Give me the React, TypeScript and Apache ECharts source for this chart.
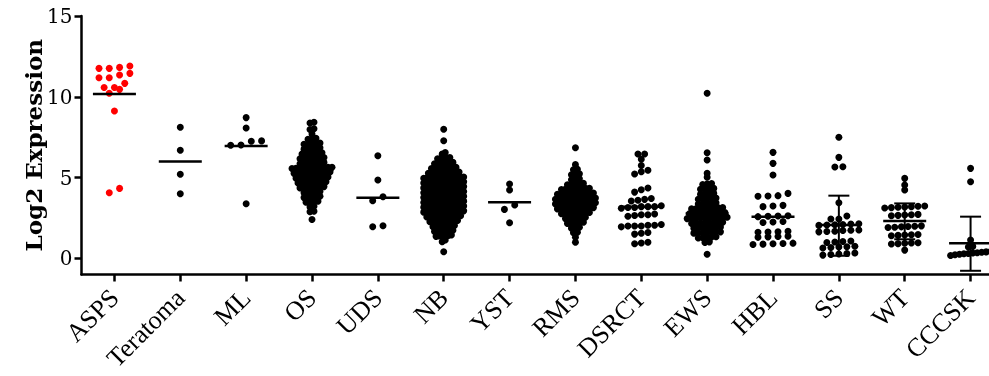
import React, { useEffect, useRef } from "react";
import * as echarts from "echarts";

// ---------- data ----------
const categories = ["ASPS", "Teratoma", "ML", "OS", "UDS", "NB", "YST", "RMS", "DSRCT", "EWS", "HBL", "SS", "WT", "CCCSK"];
const yTickValues = [0, 5, 10, 15];
const highlightCategory = "ASPS";

const aspsValues = [11.9, 11.82, 11.76, 11.76, 11.45, 11.35, 11.18, 11.18, 10.83, 10.57, 10.57, 10.46, 10.22, 9.12, 4.33, 4.06];
const teratomaValues = [8.11, 6.69, 5.2, 4.0];
const mlValues = [8.71, 8.07, 7.27, 7.25, 7.02, 7.0, 3.38];
const osValues = [
  2.4, 2.88, 2.92, 3.18, 3.22, 3.47, 3.49, 3.51, 3.53,
  3.76, 3.78, 3.8, 3.82, 3.84, 4.06, 4.08, 4.1, 4.12, 4.14,
  4.36, 4.37, 4.39, 4.4, 4.41, 4.43, 4.44,
  4.66, 4.67, 4.68, 4.69, 4.71, 4.72, 4.73, 4.74,
  4.96, 4.97, 4.98, 4.99, 5.0, 5.01, 5.02, 5.03, 5.04,
  5.26, 5.27, 5.28, 5.29, 5.3, 5.3, 5.31, 5.32, 5.33, 5.34,
  5.56, 5.57, 5.58, 5.59, 5.6, 5.6, 5.6, 5.61, 5.62, 5.63, 5.64,
  5.86, 5.87, 5.89, 5.9, 5.91, 5.93, 5.94,
  6.16, 6.17, 6.19, 6.2, 6.21, 6.23, 6.24,
  6.46, 6.48, 6.49, 6.51, 6.52, 6.54,
  6.76, 6.78, 6.8, 6.82, 6.84,
  7.06, 7.08, 7.1, 7.12, 7.14,
  7.37, 7.4, 7.43, 7.7, 7.98, 8.02, 8.38, 8.42,
];
const udsValues = [6.35, 4.85, 3.81, 3.57, 2.02, 1.96];
const nbValues = [
  0.41, 1.03, 1.13,
  1.36, 1.38, 1.39, 1.41, 1.42, 1.44,
  1.66, 1.67, 1.69, 1.7, 1.71, 1.73, 1.74,
  1.96, 1.97, 1.98, 1.99, 2.01, 2.02, 2.03, 2.04,
  2.26, 2.27, 2.28, 2.29, 2.3, 2.3, 2.31, 2.32, 2.33, 2.34,
  2.56, 2.57, 2.58, 2.58, 2.59, 2.6, 2.6, 2.61, 2.62, 2.62, 2.63, 2.64,
  2.86, 2.87, 2.87, 2.88, 2.89, 2.89, 2.9, 2.9, 2.91, 2.91, 2.92, 2.93, 2.93, 2.94,
  3.16, 3.17, 3.17, 3.18, 3.19, 3.19, 3.2, 3.2, 3.21, 3.21, 3.22, 3.23, 3.23, 3.24,
  3.46, 3.47, 3.47, 3.48, 3.49, 3.49, 3.5, 3.5, 3.51, 3.51, 3.52, 3.53, 3.53, 3.54,
  3.76, 3.77, 3.77, 3.78, 3.79, 3.79, 3.8, 3.8, 3.81, 3.81, 3.82, 3.83, 3.83, 3.84,
  4.06, 4.07, 4.07, 4.08, 4.09, 4.09, 4.1, 4.1, 4.11, 4.11, 4.12, 4.13, 4.13, 4.14,
  4.36, 4.37, 4.37, 4.38, 4.39, 4.39, 4.4, 4.4, 4.41, 4.41, 4.42, 4.43, 4.43, 4.44,
  4.66, 4.67, 4.67, 4.68, 4.69, 4.69, 4.7, 4.7, 4.71, 4.71, 4.72, 4.73, 4.73, 4.74,
  4.96, 4.97, 4.97, 4.98, 4.99, 4.99, 5.0, 5.0, 5.01, 5.01, 5.02, 5.03, 5.03, 5.04,
  5.26, 5.27, 5.28, 5.29, 5.3, 5.3, 5.3, 5.31, 5.32, 5.33, 5.34,
  5.56, 5.57, 5.58, 5.59, 5.6, 5.61, 5.62, 5.63, 5.64,
  5.86, 5.87, 5.89, 5.9, 5.91, 5.93, 5.94,
  6.16, 6.18, 6.2, 6.22, 6.24,
  6.45, 6.55, 7.28, 7.99,
];
const ystValues = [4.6, 4.23, 3.3, 3.03, 2.2];
const rmsValues = [
  1.0, 1.3, 1.58, 1.62, 1.87, 1.9, 1.93,
  2.16, 2.18, 2.2, 2.22, 2.24,
  2.46, 2.48, 2.49, 2.51, 2.52, 2.54,
  2.76, 2.77, 2.78, 2.79, 2.81, 2.82, 2.83, 2.84,
  3.06, 3.07, 3.08, 3.09, 3.1, 3.1, 3.11, 3.12, 3.13, 3.14,
  3.36, 3.37, 3.38, 3.39, 3.4, 3.4, 3.4, 3.41, 3.42, 3.43, 3.44,
  3.66, 3.67, 3.68, 3.69, 3.7, 3.7, 3.7, 3.71, 3.72, 3.73, 3.74,
  3.96, 3.97, 3.98, 3.99, 4.0, 4.0, 4.01, 4.02, 4.03, 4.04,
  4.26, 4.27, 4.28, 4.29, 4.31, 4.32, 4.33, 4.34,
  4.56, 4.58, 4.6, 4.62, 4.64,
  4.87, 4.9, 4.93, 5.17, 5.2, 5.23, 5.48, 5.52, 5.8, 6.85,
];
const dsrctValues = [
  6.46, 6.46, 6.13, 5.75, 5.45, 5.36, 5.22, 4.35, 4.25, 4.1,
  3.7, 3.65, 3.6, 3.55, 3.25, 3.2, 3.2, 3.2, 3.15, 3.15, 3.1,
  2.75, 2.7, 2.7, 2.65, 2.6, 2.1, 2.05, 2.05, 2.0, 2.0, 2.0, 1.95,
  1.6, 1.55, 1.5, 1.0, 0.95, 0.9,
];
const ewsValues = [
  0.25, 0.98, 1.02,
  1.26, 1.28, 1.3, 1.32, 1.34,
  1.56, 1.57, 1.59, 1.6, 1.61, 1.63, 1.64,
  1.86, 1.87, 1.89, 1.9, 1.91, 1.93, 1.94,
  2.16, 2.17, 2.18, 2.19, 2.21, 2.22, 2.23, 2.24,
  2.46, 2.47, 2.48, 2.49, 2.5, 2.5, 2.51, 2.52, 2.53, 2.54,
  2.76, 2.77, 2.78, 2.79, 2.8, 2.81, 2.82, 2.83, 2.84,
  3.06, 3.07, 3.08, 3.09, 3.11, 3.12, 3.13, 3.14,
  3.36, 3.38, 3.4, 3.42, 3.44,
  3.66, 3.68, 3.7, 3.72, 3.74,
  3.97, 3.99, 4.01, 4.03,
  4.27, 4.29, 4.31, 4.33,
  4.57, 4.6, 4.63, 5.02, 5.26, 6.09, 6.54, 10.22,
];
const hblValues = [
  6.56, 5.88, 5.16, 4.02, 3.88, 3.86, 3.84, 3.28, 3.24, 3.2,
  2.64, 2.62, 2.6, 2.58, 2.28, 2.25, 2.22, 1.67, 1.65, 1.63, 1.61,
  1.37, 1.35, 1.33, 1.3, 0.94, 0.92, 0.9, 0.88, 0.86,
];
const ssValues = [
  7.49, 6.25, 5.67, 5.65, 3.44, 2.62, 2.43, 2.43,
  2.14, 2.12, 2.1, 2.08, 2.06, 2.04, 1.76, 1.74, 1.72, 1.68, 1.66, 1.64,
  1.07, 1.04, 1.01, 0.98, 0.75, 0.72, 0.7, 0.67, 0.64, 0.33, 0.3, 0.27, 0.24, 0.2,
];
const wtValues = [
  4.95, 4.54, 4.23, 3.24, 3.22, 3.2, 3.18, 3.16, 3.14, 3.12,
  2.72, 2.7, 2.68, 2.66, 2.64, 2.01, 1.99, 1.97, 1.95, 1.93, 1.91,
  1.48, 1.46, 1.44, 1.42, 1.4, 0.97, 0.95, 0.93, 0.91, 0.89, 0.51,
];
const cccskValues = [5.57, 4.74, 1.13, 0.74, 0.7, 0.42, 0.4, 0.38, 0.35, 0.33, 0.3, 0.28, 0.25, 0.22, 0.18];

const groupValues: number[][] = [
  aspsValues, teratomaValues, mlValues, osValues, udsValues, nbValues, ystValues,
  rmsValues, dsrctValues, ewsValues, hblValues, ssValues, wtValues, cccskValues,
];
const meanValues = [10.17, 6.0, 6.95, 5.47, 3.75, 3.8, 3.47, 3.45, 3.2, 2.78, 2.58, 2.06, 2.31, 0.93];
const errorCategories = ["SS", "WT", "CCCSK"];
const errorLow = [0.16, 1.18, -0.77];
const errorHigh = [3.88, 3.4, 2.58];

// ---------- layout / style ----------
const W = 989;
const H = 376;
const GRID_LEFT = 81.5;
const GRID_RIGHT = -14.5;
const GRID_TOP = 16;
const GRID_BOTTOM = 101.5;
const DOT = 7;
const MAX_STEP_PX = 10.3;
const SPREAD_PX = 40;
const MEAN_HALF_PX = 21.5;
const CAP_HALF_PX = 10.5;

function layoutGroup(values: number[], catIndex: number, pxPerCat: number): number[][] {
  const rowH = values.length >= 50 ? 0.2 : 0.28;
  const sorted = [...values].sort((a, b) => a - b);
  const rows: number[][] = [];
  let cur: number[] = [];
  let start = 0;
  for (const v of sorted) {
    if (cur.length > 0 && v < start + rowH) cur.push(v);
    else {
      if (cur.length) rows.push(cur);
      cur = [v];
      start = v;
    }
  }
  if (cur.length) rows.push(cur);
  const maxN = Math.max(...rows.map((r) => r.length));
  const step = maxN > 1 ? Math.min(MAX_STEP_PX, SPREAD_PX / (maxN - 1)) : 0;
  const pts: number[][] = [];
  rows.forEach((r) =>
    r.forEach((v, i) => pts.push([catIndex + ((i - (r.length - 1) / 2) * step) / pxPerCat, v]))
  );
  return pts;
}

export default function App() {
  const ref = useRef<HTMLDivElement>(null);
  useEffect(() => {
    if (!ref.current) return;
    const chart = echarts.init(ref.current, null, { renderer: "svg" });
    const pxPerCat = (W - GRID_LEFT - GRID_RIGHT) / categories.length;
    const blackPts: number[][] = [];
    const redPts: number[][] = [];
    groupValues.forEach((vals, i) => {
      const pts = layoutGroup(vals, i, pxPerCat);
      if (categories[i] === highlightCategory) redPts.push(...pts);
      else blackPts.push(...pts);
    });
    const meanData = meanValues.map((m, i) => [i, m]);
    const errData = errorCategories.map((c, k) => [categories.indexOf(c), errorLow[k], errorHigh[k]]);
    const meanStyle = { stroke: "#000", lineWidth: 2.5 };
    const errStyle = { stroke: "#000", lineWidth: 2 };

    chart.setOption({
      animation: false,
      grid: {
        left: GRID_LEFT,
        right: GRID_RIGHT,
        top: GRID_TOP,
        bottom: GRID_BOTTOM,
        containLabel: false,
        outerBoundsMode: "none",
      },
      xAxis: [
        {
          type: "category",
          data: categories,
          boundaryGap: true,
          position: "bottom",
          axisLine: { show: true, onZero: false, lineStyle: { color: "#000", width: 2.5 } },
          axisTick: { show: true, alignWithLabel: true, length: 7, lineStyle: { color: "#000", width: 2.5 } },
          axisLabel: {
            interval: 0,
            rotate: 45,
            margin: 19,
            align: "right",
            verticalAlign: "middle",
            color: "#000",
            fontFamily: "'Liberation Serif', 'Times New Roman', serif",
            fontSize: 26,
          },
          splitLine: { show: false },
        },
        { type: "value", min: -0.5, max: categories.length - 0.5, show: false, position: "bottom" },
      ],
      yAxis: {
        type: "value",
        min: -1,
        max: 15,
        axisLine: { show: true, onZero: false, lineStyle: { color: "#000", width: 2.5 } },
        axisTick: { show: true, length: 7, customValues: yTickValues, lineStyle: { color: "#000", width: 2.5 } },
        axisLabel: {
          customValues: yTickValues,
          margin: 9,
          color: "#000",
          fontFamily: "DejaVu Serif",
          fontSize: 20,
        },
        splitLine: { show: false },
        name: "Log2 Expression",
        nameLocation: "middle",
        nameRotate: 90,
        nameGap: 37,
        nameMoveOverlap: false,
        nameTextStyle: { color: "#000", fontFamily: "DejaVu Serif", fontWeight: "bold", fontSize: 23 },
      },
      series: [
        {
          type: "scatter",
          xAxisIndex: 1,
          data: blackPts,
          symbolSize: DOT,
          itemStyle: { color: "#000", opacity: 1 },
          z: 2,
        },
        {
          type: "scatter",
          xAxisIndex: 1,
          data: redPts,
          symbolSize: DOT,
          itemStyle: { color: "#ff0000", opacity: 1 },
          z: 2,
        },
        {
          type: "custom",
          xAxisIndex: 1,
          data: meanData,
          z: 5,
          encode: { x: 0, y: 1 },
          renderItem: (_p: any, api: any) => {
            const c = api.coord([api.value(0), api.value(1)]);
            return {
              type: "line",
              shape: { x1: c[0] - MEAN_HALF_PX, y1: c[1], x2: c[0] + MEAN_HALF_PX, y2: c[1] },
              style: meanStyle,
            };
          },
        },
        {
          type: "custom",
          xAxisIndex: 1,
          data: errData,
          z: 5,
          encode: { x: 0, y: [1, 2] },
          renderItem: (_p: any, api: any) => {
            const lo = api.coord([api.value(0), api.value(1)]);
            const hi = api.coord([api.value(0), api.value(2)]);
            return {
              type: "group",
              children: [
                { type: "line", shape: { x1: lo[0], y1: lo[1], x2: hi[0], y2: hi[1] }, style: errStyle },
                { type: "line", shape: { x1: lo[0] - CAP_HALF_PX, y1: lo[1], x2: lo[0] + CAP_HALF_PX, y2: lo[1] }, style: errStyle },
                { type: "line", shape: { x1: hi[0] - CAP_HALF_PX, y1: hi[1], x2: hi[0] + CAP_HALF_PX, y2: hi[1] }, style: errStyle },
              ],
            };
          },
        },
      ],
    });
    return () => chart.dispose();
  }, []);
  return <div ref={ref} style={{ position: "fixed", left: 0, top: 0, width: W, height: H }} />;
}
